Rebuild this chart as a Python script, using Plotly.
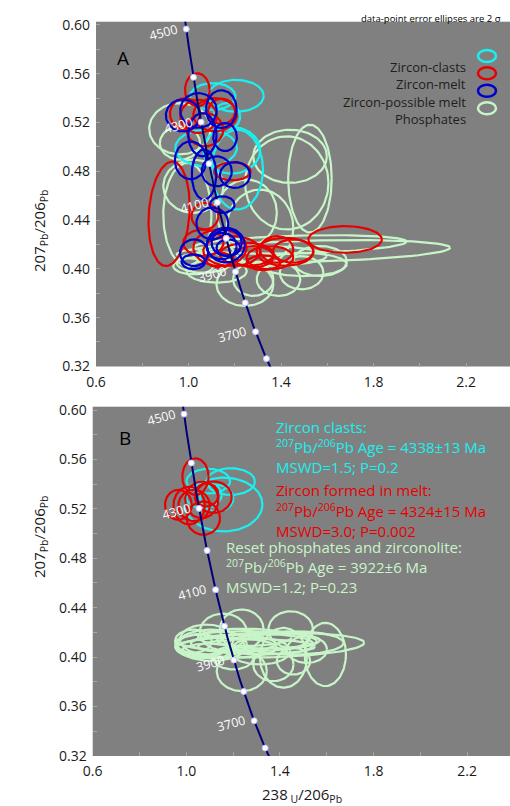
import numpy as np
import plotly.graph_objects as go

# ---------------- data ----------------
# error ellipses: (x, 2sigma_x, y, 2sigma_y, rho)
clasts_A = [
    (1.205, 0.120, 0.5419, 0.0131, 0.0),
    (1.105, 0.098, 0.5414, 0.0109, 0.0),
    (1.211, 0.111, 0.4814, 0.0327, 0.0),
    (1.076, 0.133, 0.4991, 0.0150, 0.0),
    (1.187, 0.123, 0.4972, 0.0191, 0.0),
    (1.165, 0.058, 0.5250, 0.0109, 0.0),
]
melt_A = [
    (1.038, 0.053, 0.5468, 0.0136, 0.0),
    (0.985, 0.065, 0.5272, 0.0128, 0.0),
    (1.043, 0.079, 0.5250, 0.0136, 0.0),
    (1.115, 0.094, 0.5264, 0.0136, 0.0),
    (1.071, 0.079, 0.5141, 0.0136, 0.0),
    (1.143, 0.058, 0.5291, 0.0104, 0.0),
    (1.190, 0.079, 0.4800, 0.0074, 0.0),
    (0.916, 0.089, 0.4451, 0.0428, 0.15),
    (1.071, 0.058, 0.4432, 0.0109, 0.0),
    (1.136, 0.115, 0.4173, 0.0150, 0.0),
    (1.187, 0.123, 0.4146, 0.0123, 0.0),
    (1.252, 0.115, 0.4118, 0.0095, 0.0),
    (1.352, 0.101, 0.4091, 0.0095, 0.0),
    (1.417, 0.123, 0.4140, 0.0115, 0.0),
    (1.453, 0.087, 0.4146, 0.0095, 0.0),
    (1.280, 0.087, 0.4099, 0.0087, 0.0),
    (1.136, 0.058, 0.4072, 0.0060, 0.0),
    (1.677, 0.159, 0.4241, 0.0109, 0.0),
    (1.381, 0.072, 0.4159, 0.0109, 0.0),
    (1.064, 0.087, 0.4214, 0.0109, 0.0),
    (1.324, 0.072, 0.4050, 0.0060, 0.0),
]
possible_A = [
    (0.976, 0.074, 0.5258, 0.0131, 0.0),
    (1.043, 0.079, 0.5299, 0.0142, 0.0),
    (1.060, 0.061, 0.5100, 0.0177, 0.0),
    (1.142, 0.066, 0.5310, 0.0155, 0.0),
    (1.158, 0.051, 0.5081, 0.0115, 0.0),
    (1.009, 0.068, 0.4890, 0.0155, 0.0),
    (1.067, 0.053, 0.4773, 0.0205, 0.0),
    (1.201, 0.065, 0.4770, 0.0106, 0.0),
    (1.122, 0.065, 0.4800, 0.0123, 0.0),
    (1.146, 0.053, 0.4527, 0.0068, 0.0),
    (1.103, 0.069, 0.4372, 0.0131, 0.0),
    (1.161, 0.082, 0.4195, 0.0142, 0.0),
    (1.143, 0.065, 0.4187, 0.0109, 0.0),
    (1.165, 0.065, 0.4214, 0.0109, 0.0),
    (1.172, 0.051, 0.4173, 0.0068, 0.0),
    (1.024, 0.061, 0.4132, 0.0109, 0.0),
    (1.021, 0.051, 0.4058, 0.0060, 0.0),
]
phosphates_A = [
    (0.963, 0.133, 0.5149, 0.0210, 0.0),
    (0.963, 0.087, 0.5032, 0.0136, 0.0),
    (0.995, 0.104, 0.4446, 0.0423, 0.0),
    (1.525, 0.094, 0.4740, 0.0442, 0.0),
    (1.425, 0.180, 0.4705, 0.0382, 0.0),
    (1.309, 0.144, 0.4336, 0.0314, 0.0),
    (1.540, 0.591, 0.4146, 0.0090, 0.3),
    (1.482, 0.461, 0.4200, 0.0076, 0.3),
    (1.244, 0.123, 0.3873, 0.0177, 0.0),
    (1.389, 0.094, 0.3914, 0.0136, 0.0),
    (1.497, 0.187, 0.4036, 0.0095, 0.0),
    (1.569, 0.115, 0.4064, 0.0123, 0.0),
    (1.122, 0.130, 0.3982, 0.0095, 0.0),
    (1.280, 0.087, 0.3914, 0.0136, 0.0),
    (1.489, 0.094, 0.3968, 0.0136, 0.0),
    (1.064, 0.115, 0.4050, 0.0082, 0.0),
    (1.309, 0.288, 0.4105, 0.0082, 0.0),
    (1.252, 0.130, 0.4459, 0.0273, 0.0),
    (1.439, 0.159, 0.4923, 0.0218, 0.0),
    (1.021, 0.130, 0.4677, 0.0218, 0.0),
    (1.021, 0.087, 0.4023, 0.0068, 0.0),
]
clasts_B = [
    (1.160, 0.165, 0.5235, 0.0218, 0.0),
    (1.190, 0.103, 0.5421, 0.0108, 0.0),
    (1.094, 0.093, 0.5424, 0.0100, 0.0),
    (1.130, 0.071, 0.5286, 0.0108, 0.0),
    (1.073, 0.078, 0.5313, 0.0108, 0.0),
]
melt_B = [
    (1.039, 0.056, 0.5461, 0.0148, 0.0),
    (0.966, 0.057, 0.5233, 0.0121, 0.0),
    (1.012, 0.067, 0.5227, 0.0153, 0.0),
    (1.066, 0.071, 0.5273, 0.0148, 0.0),
    (1.116, 0.078, 0.5295, 0.0127, 0.0),
    (1.073, 0.071, 0.5125, 0.0135, 0.0),
    (1.033, 0.067, 0.5227, 0.0127, 0.0),
    (1.087, 0.050, 0.5313, 0.0094, 0.0),
]
reset_B = [
    (1.358, 0.402, 0.4096, 0.0100, 0.2),
    (1.237, 0.093, 0.4223, 0.0162, 0.0),
    (1.446, 0.095, 0.4223, 0.0148, 0.0),
    (1.594, 0.088, 0.4021, 0.0256, 0.0),
    (1.415, 0.100, 0.3994, 0.0242, 0.0),
    (1.237, 0.107, 0.3886, 0.0162, 0.0),
    (1.372, 0.086, 0.3940, 0.0135, 0.0),
    (1.062, 0.110, 0.4088, 0.0094, 0.0),
    (1.109, 0.150, 0.4096, 0.0127, 0.0),
    (1.087, 0.114, 0.4142, 0.0121, 0.0),
    (1.173, 0.214, 0.4075, 0.0081, 0.0),
    (1.358, 0.185, 0.4102, 0.0081, 0.0),
    (1.458, 0.214, 0.4115, 0.0094, 0.0),
    (1.258, 0.299, 0.4129, 0.0081, 0.0),
    (1.158, 0.100, 0.4204, 0.0148, 0.0),
    (1.315, 0.128, 0.4048, 0.0108, 0.0),
    (1.515, 0.086, 0.4061, 0.0108, 0.0),
    (1.201, 0.086, 0.3994, 0.0094, 0.0),
    (1.030, 0.078, 0.4129, 0.0094, 0.0),
    (1.458, 0.071, 0.3967, 0.0108, 0.0),
    (1.300, 0.250, 0.4085, 0.0060, 0.0),
    (1.200, 0.180, 0.4110, 0.0070, 0.0),
    (1.350, 0.220, 0.4135, 0.0065, 0.0),
    (1.100, 0.120, 0.4050, 0.0060, 0.0),
    (1.250, 0.200, 0.4160, 0.0070, 0.0),
]
concordia_ages = [3500, 4560]          # Ma, span of the curve
marker_ages = [3600, 3700, 3800, 3900, 4000, 4100, 4200, 4300, 4400, 4500]
labelled_ages = [3700, 3900, 4100, 4300, 4500]
legend_names = ["Zircon-clasts", "Zircon-melt", "Zircon-possible melt", "Phosphates"]
result_lines = [
    ("Zircon clasts:", "cyan"),
    ("<sup>207</sup>Pb/<sup>206</sup>Pb Age = 4338±13 Ma", "cyan"),
    ("MSWD=1.5; P=0.2", "cyan"),
    ("Zircon formed in melt:", "red"),
    ("<sup>207</sup>Pb/<sup>206</sup>Pb Age = 4324±15 Ma", "red"),
    ("MSWD=3.0; P=0.002", "red"),
    ("Reset phosphates and zirconolite:", "green"),
    ("<sup>207</sup>Pb/<sup>206</sup>Pb Age = 3922±6 Ma", "green"),
    ("MSWD=1.2; P=0.23", "green"),
]

# ---------------- styles ----------------
COL = {"cyan": "#19f0f0", "red": "#e60000", "blue": "#0000cd", "green": "#c8f5c8"}
W, H = 510, 806
FONT = "Open Sans"

L238, L235, U85 = 1.55125e-4, 9.8485e-4, 137.88  # per Ma


def tw(age):
    age = np.asarray(age, dtype=float)
    e8 = np.exp(L238 * age) - 1
    e5 = np.exp(L235 * age) - 1
    return 1 / e8, e5 / e8 / U85


def ellipses(group):
    t = np.linspace(0, 2 * np.pi, 100)
    xs, ys = [], []
    for x, sx, y, sy, r in group:
        xs += list(x + sx * np.cos(t)) + [None]
        ys += list(y + sy * (r * np.cos(t) + np.sqrt(1 - r * r) * np.sin(t))) + [None]
    return xs, ys


fig = go.Figure()


def add_group(group, color, xa, ya):
    xs, ys = ellipses(group)
    fig.add_trace(go.Scatter(x=xs, y=ys, mode="lines", xaxis=xa, yaxis=ya,
                             line=dict(color=color, width=2.2), hoverinfo="skip",
                             showlegend=False))


def add_concordia(xa, ya):
    ages = np.linspace(concordia_ages[0], concordia_ages[1], 200)
    cx, cy = tw(ages)
    fig.add_trace(go.Scatter(x=cx, y=cy, mode="lines", xaxis=xa, yaxis=ya,
                             line=dict(color="#00007a", width=2), showlegend=False,
                             hoverinfo="skip"))
    mx, my = tw(marker_ages)
    fig.add_trace(go.Scatter(x=mx, y=my, mode="markers", xaxis=xa, yaxis=ya,
                             marker=dict(color="white", size=6,
                                         line=dict(color="#c0c0ff", width=1)),
                             showlegend=False, hoverinfo="skip"))
    for a in labelled_ages:
        ax_, ay_ = tw(a)
        fig.add_annotation(x=float(ax_), y=float(ay_), xref=xa, yref=ya,
                           text=str(a), showarrow=False, textangle=-15,
                           xshift=-23, yshift=-3,
                           font=dict(family=FONT, size=12.5, color="white"))


# Panel A
add_group(phosphates_A, COL["green"], "x", "y")
add_group(clasts_A, COL["cyan"], "x", "y")
add_group(melt_A, COL["red"], "x", "y")
add_group(possible_A, COL["blue"], "x", "y")
add_concordia("x", "y")

# Panel B
add_group(reset_B, COL["green"], "x2", "y2")
add_group(clasts_B, COL["cyan"], "x2", "y2")
add_group(melt_B, COL["red"], "x2", "y2")
add_concordia("x2", "y2")


def px(x):
    return x / W


def py(y):
    return 1 - y / H


axis_common = dict(showgrid=False, zeroline=False, ticks="inside", ticklen=4,
                   tickcolor="#a6a6a6", ticklabelstandoff=5,
                   tickfont=dict(family=FONT, size=14, color="#1a1a1a"),
                   automargin=False, showline=False)

fig.update_layout(
    width=W, height=H, margin=dict(l=0, r=0, t=0, b=0),
    paper_bgcolor="white", plot_bgcolor="#808080",
    xaxis=dict(domain=[px(96), 1], range=[0.6, 2.39], anchor="y", dtick=0.4,
               tick0=0.6, tickformat=".1f",
               minor=dict(dtick=0.2, ticks="inside", ticklen=4, tickcolor="#a6a6a6"),
               **axis_common),
    yaxis=dict(domain=[py(366.5), py(21.7)], range=[0.3199, 0.6027], anchor="x",
               dtick=0.04, tick0=0.32, tickformat=".2f",
               minor=dict(dtick=0.02, ticks="inside", ticklen=4, tickcolor="#a6a6a6"),
               **axis_common),
    xaxis2=dict(domain=[px(92.7), 1], range=[0.6, 2.383], anchor="y2", dtick=0.4,
                tick0=0.6, tickformat=".1f",
                minor=dict(dtick=0.2, ticks="inside", ticklen=4, tickcolor="#a6a6a6"),
                **axis_common),
    yaxis2=dict(domain=[py(756), py(406.7)], range=[0.3199, 0.6027], anchor="x2",
                dtick=0.04, tick0=0.32, tickformat=".2f",
                minor=dict(dtick=0.02, ticks="inside", ticklen=4, tickcolor="#a6a6a6"),
                **axis_common),
)

ann = []
# axis titles
ytitle = "207<sub>Pb</sub>/206<sub>Pb</sub>"
for yc in (188, 580):
    ann.append(dict(x=px(27), y=py(yc), xref="paper", yref="paper", text=ytitle,
                    textangle=-90, showarrow=False,
                    font=dict(family=FONT, size=15, color="#1a1a1a")))
ann.append(dict(x=px(302), y=0, xref="paper", yref="paper", yanchor="bottom",
                yshift=-2,
                text="238<sub> U</sub>/206<sub>Pb</sub>", showarrow=False,
                font=dict(family=FONT, size=15, color="#1a1a1a")))
# panel letters
ann.append(dict(x=px(115), y=py(43), xref="paper", yref="paper", text="A",
                showarrow=False, font=dict(family=FONT, size=19, color="black")))
ann.append(dict(x=px(117), y=py(438), xref="paper", yref="paper", text="B",
                showarrow=False, font=dict(family=FONT, size=19, color="black")))
# note
ann.append(dict(x=px(503), y=py(10), xref="paper", yref="paper",
                text="data-point error ellipses are 2 σ", showarrow=False,
                xanchor="right", font=dict(family=FONT, size=9.5, color="black")))
# legend
leg_cols = [COL["cyan"], COL["red"], COL["blue"], COL["green"]]
leg_y = [56, 73.3, 90.7, 108.3]
shapes = []
for name, c, yy in zip(legend_names, leg_cols, leg_y):
    ann.append(dict(x=px(468), y=py(yy), xref="paper", yref="paper", text=name,
                    showarrow=False, xanchor="right",
                    font=dict(family=FONT, size=13, color="#1e1e1e")))
    shapes.append(dict(type="circle", xref="paper", yref="paper",
                       x0=px(478), x1=px(496), y0=py(yy + 6), y1=py(yy - 6),
                       line=dict(color=c, width=2.5)))
# results text in panel B
line_y = [427, 447, 467, 490, 510, 531, 559, 579, 599]
for (txt, c), yy in zip(result_lines, line_y):
    xl = 274 if c != "green" else 224
    ann.append(dict(x=px(xl), y=py(yy), xref="paper", yref="paper", text=txt,
                    showarrow=False, xanchor="left",
                    font=dict(family=FONT, size=15, color=COL[c])))

fig.update_layout(annotations=list(fig.layout.annotations) + ann, shapes=shapes)
fig.write_html("out.html", config={"displayModeBar": False},
               post_script="document.body.style.margin='0';"
                           "document.body.style.overflow='hidden';")
